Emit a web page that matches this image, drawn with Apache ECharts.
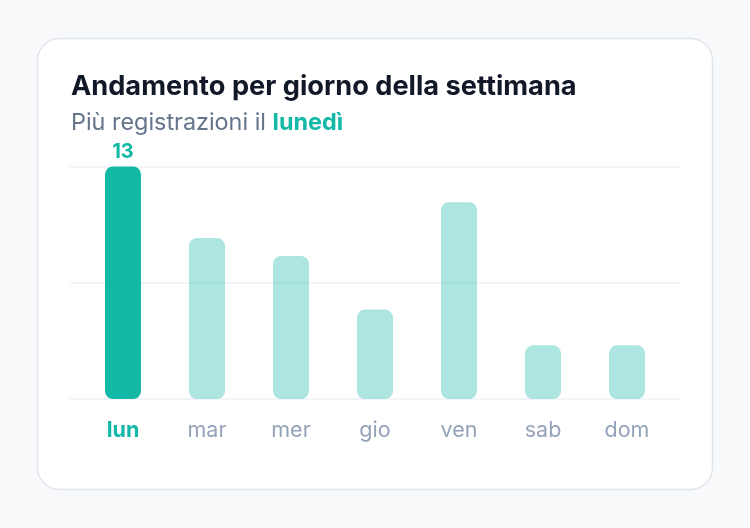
<!DOCTYPE html>
<html>
	<head>
		<meta charset="utf-8">
		<title>Andamento per giorno della settimana</title>
		<style type="text/css">
			* {
				margin: 0;
				padding: 0;
			}

			html,
			body {
				width: 100%;
				height: 100%;
				background: #f8f9fb;
			}

			#chart {
				width: 750px;
				height: 528px;
			}
		</style>
	</head>
	<body>
		<div id="chart"></div>
		<script src="https://cdn.jsdelivr.net/npm/echarts@6/dist/echarts.min.js"></script>
		<script type="text/javascript">
			// dati
			var giorni = ['lun', 'mar', 'mer', 'gio', 'ven', 'sab', 'dom']
			var registrazioni = [13, 9, 8, 5, 11, 3, 3]
			var yMax = 13

			var teal = '#14b8a6'
			var tealLight = 'rgba(20, 184, 166, 0.35)'
			var font = 'Inter, "Noto Sans", sans-serif'

			// giorno con più registrazioni
			var maxIdx = registrazioni.indexOf(Math.max.apply(null, registrazioni))

			var catData = []
			var barData = []
			for (let i = 0; i < giorni.length; i++) {
				let isMax = i == maxIdx
				catData.push({
					value: giorni[i],
					textStyle: {
						color: isMax ? teal : '#94a3b8',
						fontWeight: isMax ? 'bold' : 'normal'
					}
				})
				barData.push({
					value: registrazioni[i],
					itemStyle: {
						color: isMax ? teal : tealLight
					},
					label: {
						show: isMax
					}
				})
			}

			var myChart = echarts.init(document.getElementById('chart'))
			var option = {
				backgroundColor: 'transparent',
				textStyle: {
					fontFamily: font
				},
				graphic: [{
					type: 'rect',
					z: -10,
					shape: {
						x: 37.5,
						y: 38.5,
						width: 675,
						height: 451,
						r: 22
					},
					style: {
						fill: '#ffffff',
						stroke: '#e2e5ec',
						lineWidth: 1.5
					}
				}],
				title: [{
					text: 'Andamento per giorno della settimana',
					left: 66,
					top: 68,
					textStyle: {
						fontFamily: font,
						fontSize: 27.2,
						fontWeight: 'bold',
						color: '#111827'
					}
				}, {
					text: '{a|Più registrazioni il }{b|lunedì}',
					left: 66,
					top: 106,
					textStyle: {
						fontWeight: 'normal',
						rich: {
							a: {
								fontFamily: font,
								fontSize: 23.4,
								fontWeight: 'normal',
								color: '#64748b'
							},
							b: {
								fontFamily: font,
								fontSize: 23.4,
								fontWeight: 'bold',
								color: teal
							}
						}
					}
				}],
				grid: [{
					// solo per le linee di sfondo, più larghe delle barre
					left: 70,
					right: 70,
					top: 166.5,
					bottom: 129
				}, {
					left: 81,
					right: 81,
					top: 166.5,
					bottom: 129
				}],
				xAxis: [{
					gridIndex: 0,
					type: 'category',
					data: giorni,
					show: false
				}, {
					gridIndex: 1,
					type: 'category',
					data: catData,
					axisLine: {
						show: false
					},
					axisTick: {
						show: false
					},
					axisLabel: {
						margin: 21,
						fontSize: 21.5,
						fontFamily: font
					}
				}],
				yAxis: [{
					gridIndex: 0,
					type: 'value',
					min: 0,
					max: yMax,
					interval: yMax / 2,
					axisLabel: {
						show: false
					},
					axisLine: {
						show: false
					},
					axisTick: {
						show: false
					},
					splitLine: {
						lineStyle: {
							color: '#eef1f5',
							width: 1.5
						}
					}
				}, {
					gridIndex: 1,
					type: 'value',
					min: 0,
					max: yMax,
					interval: yMax / 2,
					show: false,
					splitLine: {
						show: false
					}
				}],
				series: [{
					type: 'bar',
					xAxisIndex: 1,
					yAxisIndex: 1,
					barWidth: 36,
					data: barData,
					itemStyle: {
						borderRadius: 8
					},
					label: {
						position: 'top',
						distance: 5,
						fontFamily: font,
						fontSize: 20,
						fontWeight: 'bold',
						color: teal
					}
				}]
			}
			myChart.setOption(option)
		</script>
	</body>
</html>
